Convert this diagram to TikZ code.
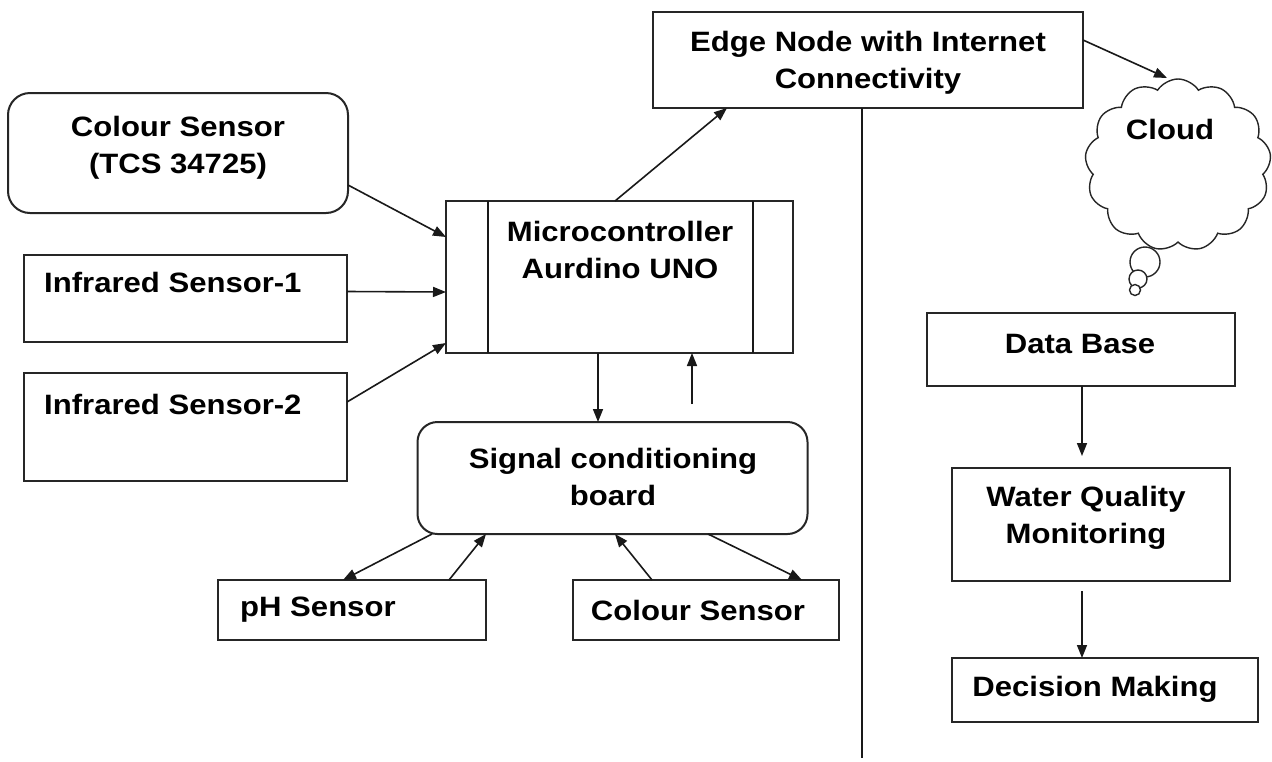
\documentclass[tikz,border=0pt]{standalone}
\usepackage{fontspec}
\setmainfont{Liberation Sans}[FakeStretch=1.11]
\usetikzlibrary{arrows.meta,shapes.symbols}
\begin{document}
\begin{tikzpicture}[x=1pt,y=-1pt,
  box/.style={draw=black!85,line width=2pt,inner sep=0pt,outer sep=0pt,fill=white},
  rbox/.style={box,rounded corners=22pt},
  txt/.style={font=\fontsize{28}{37}\selectfont\bfseries,align=center,inner sep=0pt},
  ltxt/.style={txt,anchor=west,align=left},
  arr/.style={draw=black!90,line width=1.6pt,-{Triangle[length=13pt,width=10pt]}},
  ln/.style={draw=black!90,line width=1.6pt}]
\useasboundingbox (0,0) rectangle (1272,761);
\fill[white] (0,0) rectangle (1272,761);

% boxes
\node[rbox,minimum width=340pt,minimum height=120pt] (cs1) at (178,153) {};
\node[box,minimum width=323pt,minimum height=87pt] (ir1) at (185.5,298.5) {};
\node[box,minimum width=323pt,minimum height=108pt] (ir2) at (185.5,427) {};
\node[box,minimum width=347pt,minimum height=152pt] (mc) at (619.5,277) {};
\draw[ln,line width=2pt] ([xshift=42pt]mc.north west) -- ([xshift=42pt]mc.south west);
\draw[ln,line width=2pt] ([xshift=-40pt]mc.north east) -- ([xshift=-40pt]mc.south east);
\node[rbox,rounded corners=20pt,minimum width=390pt,minimum height=112pt] (scb) at (612.5,478) {};
\node[box,minimum width=268pt,minimum height=60pt] (ph) at (352,610) {};
\node[box,minimum width=266pt,minimum height=60pt] (cs2) at (705.5,610) {};
\node[box,minimum width=430pt,minimum height=96pt] (edge) at (868,60) {};
\node[box,minimum width=308pt,minimum height=73pt] (db) at (1081,349.5) {};
\node[box,minimum width=278pt,minimum height=113pt] (wqm) at (1091,524.5) {};
\node[box,minimum width=306pt,minimum height=64pt] (dm) at (1105,690) {};

% cloud
\node[cloud,draw=black!85,line width=1.4pt,cloud puffs=13,cloud puff arc=115,aspect=1.05,
      minimum width=186pt,minimum height=172pt,inner sep=0pt] (cloud) at (1178,165) {};
\draw[black!85,line width=1.4pt,fill=white] (1145,262) circle (15pt);
\draw[black!85,line width=1.4pt,fill=white] (1138,279) circle (9pt);
\draw[black!85,line width=1.4pt,fill=white] (1135,290) circle (5.5pt);

% texts
\node[txt] (t-cs1) at (178,148) {Colour Sensor\\(TCS 34725)};
\node[ltxt] (t-ir1) at (44,282) {Infrared Sensor-1};
\node[ltxt] (t-ir2) at (44,404) {Infrared Sensor-2};
\node[txt] (t-mc) at (620,250) {Microcontroller\\Aurdino UNO};
\node[txt] (t-scb) at (613,477) {Signal conditioning\\board};
\node[ltxt] (t-ph) at (240,610) {pH Sensor};
\node[txt] (t-cs2) at (698,610) {Colour Sensor};
\node[txt] (t-edge) at (868,63) {Edge Node with Internet\\Connectivity};
\node[txt] (t-cloud) at (1170,129) {Cloud};
\node[txt] (t-db) at (1080,344) {Data Base};
\node[txt] (t-wqm) at (1086,518) {Water Quality\\Monitoring};
\node[txt] (t-dm) at (1095,689) {Decision Making};

% connectors
\coordinate (cloudtip) at (1167,78);
\coordinate (lineend) at (862,758);
\draw[arr] ([yshift=-32pt]cs1.east) -- ([yshift=40pt]mc.west);
\draw[arr] ([yshift=7pt]ir1.east) -- ([yshift=-15pt]mc.west);
\draw[arr] ([yshift=25pt]ir2.east) -- ([yshift=-66pt]mc.west);
\draw[arr] ([xshift=-4.5pt]mc.north) -- ([xshift=-141pt]edge.south);
\draw[arr] ([xshift=-21.5pt]mc.south) -- ([xshift=-14.5pt]scb.north);
\draw[arr,shorten <=18pt] ([xshift=79.5pt]scb.north) -- ([xshift=72.5pt]mc.south);
\draw[arr] ([xshift=-180.5pt]scb.south) -- ([xshift=-9pt]ph.north);
\draw[arr] ([xshift=97pt]ph.north) -- ([xshift=-126.5pt]scb.south);
\draw[arr] ([xshift=-53.5pt]cs2.north) -- ([xshift=2.5pt]scb.south);
\draw[arr] ([xshift=95.5pt]scb.south) -- ([xshift=96.5pt]cs2.north);
\draw[arr] ([yshift=20pt]edge.east) -- (cloudtip);
\draw[ln] ([xshift=-6pt]edge.south) -- (lineend);
\draw[arr] ([xshift=1pt]db.south) -- ([xshift=-9pt,yshift=12pt]wqm.north);
\draw[arr,shorten <=10pt] ([xshift=-9pt]wqm.south) -- ([xshift=-23pt]dm.north);
\end{tikzpicture}
\end{document}
